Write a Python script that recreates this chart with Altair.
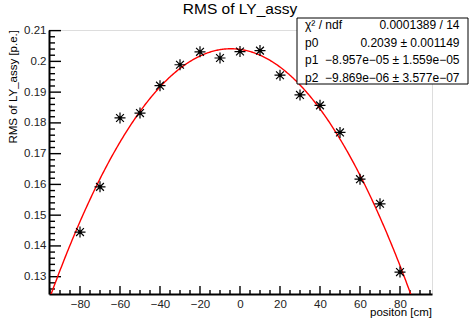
import numpy as np
import pandas as pd
import altair as alt

# Measured points: position along the assembly [cm] and RMS of light yield [p.e.]
positions = [-80, -70, -60, -50, -40, -30, -20, -10, 0, 10, 20, 30, 40, 50, 60, 70, 80]
rms_values = [0.1445, 0.1592, 0.1816, 0.1832, 0.1921, 0.1989, 0.2031, 0.2011, 0.2032,
              0.2035, 0.1955, 0.1891, 0.1857, 0.1769, 0.1617, 0.1537, 0.1315]

# Fitted pol2 parameters
p0, p1, p2 = 0.2039, -8.957e-05, -9.869e-06
stats_names = ["χ² / ndf", "p0", "p1", "p2"]
stats_vals = ["0.0001389 / 14", "0.2039 ± 0.001149",
              "−8.957e−05 ± 1.559e−05", "−9.869e−06 ± 3.577e−07"]

x_major = [-80, -60, -40, -20, 0, 20, 40, 60, 80]
y_major = [0.13, 0.14, 0.15, 0.16, 0.17, 0.18, 0.19, 0.20, 0.21]
x_dom = [-95.5, 96.0]
y_dom = [0.12437, 0.2102]

W, H = 383, 264
FONT = "Liberation Sans"

xs = alt.Scale(domain=x_dom, nice=False, zero=False)
ys = alt.Scale(domain=y_dom, nice=False, zero=False)

# one axis definition shared by every layer so the merged axis keeps it
x_axis = alt.Axis(values=x_major, format="d", title=None, tickSize=0, grid=False,
                  domainColor="black", domainWidth=2, labelFont=FONT, labelFontSize=11.5,
                  labelColor="#222", labelPadding=4, labelOverlap=False, labelFlush=False)
y_axis = alt.Axis(values=y_major, format=".2~f", title=None, tickSize=0, grid=False,
                  domainColor="black", domainWidth=2, labelFont=FONT, labelFontSize=11.5,
                  labelColor="#222", labelPadding=3, labelOverlap=False, labelFlush=False)

XQ = lambda f: alt.X(f, scale=xs, axis=x_axis, title=None)
YQ = lambda f: alt.Y(f, scale=ys, axis=y_axis, title=None)

pts = pd.DataFrame({"x": positions, "y": rms_values})

# fit curve evaluated from the parameters above
fx = np.linspace(x_dom[0], x_dom[1], 400)
curve = pd.DataFrame({"x": fx, "y": p0 + p1 * fx + p2 * fx ** 2})
curve = curve[curve["y"] >= y_dom[0] - 0.002]

x_minor = [v for v in np.arange(-95, 96, 5) if v % 20 != 0]
y_minor = [round(v, 3) for v in np.arange(0.126, 0.2101, 0.002)
           if abs(round(v * 100) - v * 100) > 1e-6]

base = alt.Chart(pts)

ymaj = alt.Chart(pd.DataFrame({"t": y_major})).mark_rule(color="black", strokeWidth=1.4).encode(
    y=YQ("t:Q"), x=alt.value(0), x2=alt.value(12))
ymin = alt.Chart(pd.DataFrame({"t": y_minor})).mark_rule(color="black", strokeWidth=1.4).encode(
    y=YQ("t:Q"), x=alt.value(0), x2=alt.value(6))
xmaj = alt.Chart(pd.DataFrame({"t": x_major})).mark_rule(color="black", strokeWidth=1.4).encode(
    x=XQ("t:Q"), y=alt.value(H), y2=alt.value(H - 8))
xmin = alt.Chart(pd.DataFrame({"t": x_minor})).mark_rule(color="black", strokeWidth=1.4).encode(
    x=XQ("t:Q"), y=alt.value(H), y2=alt.value(H - 4))

fit = alt.Chart(curve).mark_line(color="#ff0000", strokeWidth=1.4, clip=True).encode(
    x=XQ("x:Q"), y=YQ("y:Q"))

star = "M-1,0L1,0M0,-1L0,1M-0.71,-0.71L0.71,0.71M-0.71,0.71L0.71,-0.71"
stars = base.mark_point(shape=star, size=121, filled=False, color="black",
                        strokeWidth=1.2, opacity=1).encode(x=XQ("x:Q"), y=YQ("y:Q"))
dots = base.mark_circle(size=10, color="black", opacity=1).encode(x=XQ("x:Q"), y=YQ("y:Q"))


def label(txt, px, py, **kw):
    """Free-standing text placed in pixel coordinates of the plot area."""
    return alt.Chart(pd.DataFrame({"t": [txt]})).mark_text(
        font=FONT, baseline="alphabetic", color="black", **kw).encode(
        text="t:N", x=alt.value(px), y=alt.value(py))


title = label("RMS of LY_assy", 240 - 49, 14 - 30, fontSize=15.5, align="center")
ytitle = label("RMS of LY_assy [p.e.]", 17 - 49, 0, fontSize=11.5, angle=270, align="right")
xtitle = label("positon [cm]", W, 316 - 30, fontSize=11.5, align="right")

# statistics box
box = alt.Chart(pd.DataFrame({"a": [0]})).mark_rect(
    fill="white", stroke="black", strokeWidth=1).encode(
    x=alt.value(297 - 49), x2=alt.value(468 - 49), y=alt.value(18 - 30), y2=alt.value(84 - 30))

row_base = [29.3, 46.7, 64.1, 81.5]
stat_layers = []
for nm, vl, yb in zip(stats_names, stats_vals, row_base):
    stat_layers.append(label(nm, 305 - 49, yb - 30, fontSize=12, align="left"))
    stat_layers.append(label(vl, 459.5 - 49, yb - 30, fontSize=12, align="right"))

chart = alt.layer(ymin, ymaj, xmin, xmaj, fit, stars, dots, title, ytitle, xtitle,
                  box, *stat_layers).properties(
    width=W, height=H,
    autosize=alt.AutoSizeParams(type="none"),
    padding={"left": 49, "top": 30, "right": 469 - 49 - W, "bottom": 326 - 30 - H},
).configure_view(stroke="#7a7a7a", strokeWidth=2).configure(background="white")

chart.save("out.html", embed_options={"renderer": "svg", "actions": False})
